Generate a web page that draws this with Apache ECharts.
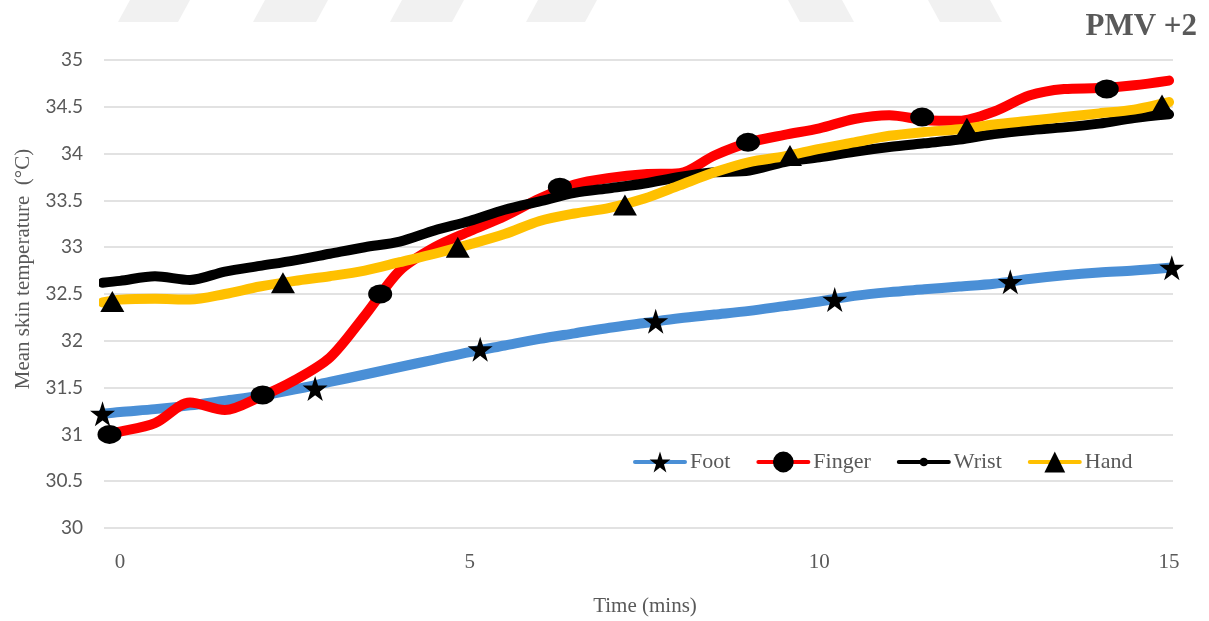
<!DOCTYPE html>
<html>
<head>
<meta charset="utf-8">
<script src="https://cdn.jsdelivr.net/npm/echarts@6/dist/echarts.min.js"></script>
<style>
  html, body { margin: 0; padding: 0; background: #ffffff; }
  #chart { width: 1209px; height: 621px; }
</style>
</head>
<body>
<div id="chart"></div>
<script>
// Time axis (minutes) shared by all four skin sites
const time = [-0.25, 0, 0.5, 1, 1.5, 2, 2.5, 3, 3.5, 4, 4.5, 5, 5.5, 6, 6.5, 7, 7.5,
  8, 8.5, 9, 9.5, 10, 10.5, 11, 11.5, 12, 12.5, 13, 13.5, 14, 14.5, 15];

// Mean skin temperature (°C)
const foot = [31.22, 31.24, 31.27, 31.31, 31.36, 31.41, 31.48, 31.56, 31.64, 31.72, 31.80, 31.88,
  31.95, 32.02, 32.08, 32.14, 32.19, 32.24, 32.28, 32.32, 32.37, 32.42, 32.48, 32.52, 32.55,
  32.58, 32.61, 32.66, 32.70, 32.73, 32.75, 32.78];
const finger = [31.00, 31.03, 31.12, 31.34, 31.26, 31.40, 31.58, 31.82, 32.27, 32.75, 33.00, 33.17,
  33.33, 33.52, 33.67, 33.74, 33.78, 33.79, 33.98, 34.12, 34.20, 34.27, 34.37, 34.41, 34.36,
  34.35, 34.45, 34.62, 34.69, 34.70, 34.73, 34.78];
const wrist = [32.62, 32.64, 32.69, 32.65, 32.74, 32.80, 32.86, 32.93, 33.00, 33.06, 33.18, 33.28,
  33.40, 33.49, 33.58, 33.63, 33.68, 33.75, 33.80, 33.82, 33.91, 33.96, 34.02, 34.07, 34.11,
  34.15, 34.21, 34.25, 34.28, 34.32, 34.38, 34.42];
const hand = [32.41, 32.44, 32.45, 32.44, 32.50, 32.58, 32.64, 32.69, 32.75, 32.84, 32.93, 33.03,
  33.14, 33.28, 33.36, 33.42, 33.52, 33.66, 33.80, 33.91, 33.97, 34.05, 34.12, 34.19, 34.23,
  34.26, 34.31, 34.35, 34.39, 34.43, 34.47, 34.55];

// Marker points along each curve
const footMarkT = [-0.25, 2.79, 5.15, 7.66, 10.22, 12.73, 15.04];
const footMarkV = [31.22, 31.49, 31.91, 32.21, 32.44, 32.63, 32.78];
const fingerMarkT = [-0.15, 2.04, 3.72, 6.29, 8.98, 11.47, 14.11];
const fingerMarkV = [31.00, 31.42, 32.50, 33.64, 34.12, 34.39, 34.69];
const handMarkT = [-0.11, 2.33, 4.83, 7.22, 9.58, 12.11, 14.90];
const handMarkV = [32.42, 32.62, 33.00, 33.45, 33.98, 34.27, 34.52];

const seriesNames = ['Foot', 'Finger', 'Wrist', 'Hand'];
const xTicks = [0, 5, 10, 15];

const STAR = 'path://M50,0 L61.8,35.4 L100,35.4 L69.1,57.3 L80.9,92.7 L50,70.8 L19.1,92.7 L30.9,57.3 L0,35.4 L38.2,35.4 Z';
const ELLIPSE = 'path://M0,9 A12,9 0 1,0 24,9 A12,9 0 1,0 0,9 Z';
const SMALL_DOT = 'path://M0,0 M24,24 M7,12 A5,5 0 1,0 17,12 A5,5 0 1,0 7,12 Z';

const pairs = (xs, ys) => xs.map((x, i) => [x, ys[i]]);

const serif = '"Liberation Serif", "Times New Roman", serif';
const grey = '#595959';

function lineSeries(name, values, color, symbol) {
  return {
    name: name,
    type: 'line',
    data: pairs(time, values),
    smooth: 0.3,
    showSymbol: false,
    symbol: symbol,
    clip: false,
    lineStyle: { color: color, width: 10, cap: 'round', join: 'round' },
    itemStyle: { color: '#000000' },
    emphasis: { disabled: true }
  };
}

function markerSeries(name, ts, vs, symbol, size) {
  return {
    name: name,
    type: 'scatter',
    data: pairs(ts, vs),
    symbol: symbol,
    symbolSize: size,
    clip: false,
    z: 5,
    itemStyle: { color: '#000000', opacity: 1 },
    emphasis: { disabled: true }
  };
}

// Faint diagonal bands along the top edge
const bands = [
  [130, 190, -12], [265, 328, -12], [402, 464, -12], [538, 597, -12],
  [788, 842, 12], [928, 990, 12]
];

const chart = echarts.init(document.getElementById('chart'), null, { renderer: 'canvas' });

chart.setOption({
  backgroundColor: '#ffffff',
  animation: false,
  grid: { left: 104, right: 36, top: 60, bottom: 93, outerBoundsMode: 'none' },
  legend: {
    data: seriesNames,
    left: 628,
    top: 446,
    itemWidth: 50,
    itemHeight: 26,
    itemGap: 26,
    lineStyle: { width: 4 },
    textStyle: { fontFamily: serif, fontSize: 22, color: grey },
    selectedMode: false
  },
  xAxis: {
    type: 'value',
    min: -0.229,
    max: 15.057,
    axisLine: { show: false },
    axisTick: { show: false },
    splitLine: { show: false },
    axisLabel: {
      customValues: xTicks,
      margin: 24,
      fontFamily: serif,
      fontSize: 21,
      color: grey
    }
  },
  yAxis: {
    type: 'value',
    min: 30,
    max: 35,
    interval: 0.5,
    axisLine: { show: false },
    axisTick: { show: false },
    splitLine: { lineStyle: { color: '#d9d9d9', width: 1.5 } },
    axisLabel: {
      margin: 21,
      fontFamily: 'Lato, "Liberation Sans", sans-serif',
      fontSize: 19,
      color: grey
    }
  },
  graphic: [
    ...bands.map(b => ({
      type: 'polygon',
      silent: true,
      shape: { points: [[b[0], 0], [b[1], 0], [b[1] + b[2], 22], [b[0] + b[2], 22]] },
      style: { fill: '#f1f1f1' }
    })),
    {
      type: 'text',
      right: 12,
      top: 11,
      style: { text: 'PMV +2', font: 'bold 31px ' + serif, fill: grey }
    },
    {
      type: 'text',
      x: 23,
      y: 269,
      rotation: Math.PI / 2,
      style: {
        text: 'Mean skin temperature  (\u00B0C)',
        font: '21px ' + serif,
        fill: grey,
        align: 'center',
        verticalAlign: 'middle'
      }
    },
    {
      type: 'text',
      x: 645,
      y: 606,
      style: {
        text: 'Time (mins)',
        font: '21px ' + serif,
        fill: grey,
        align: 'center',
        verticalAlign: 'middle'
      }
    }
  ],
  series: [
    lineSeries('Foot', foot, '#4a8fd6', STAR),
    lineSeries('Finger', finger, '#ff0000', ELLIPSE),
    lineSeries('Wrist', wrist, '#000000', SMALL_DOT),
    lineSeries('Hand', hand, '#ffc000', 'triangle'),
    markerSeries('Foot markers', footMarkT, footMarkV, STAR, 25),
    markerSeries('Finger markers', fingerMarkT, fingerMarkV, ELLIPSE, [24, 19]),
    markerSeries('Hand markers', handMarkT, handMarkV, 'triangle', [24, 21])
  ]
});
</script>
</body>
</html>
